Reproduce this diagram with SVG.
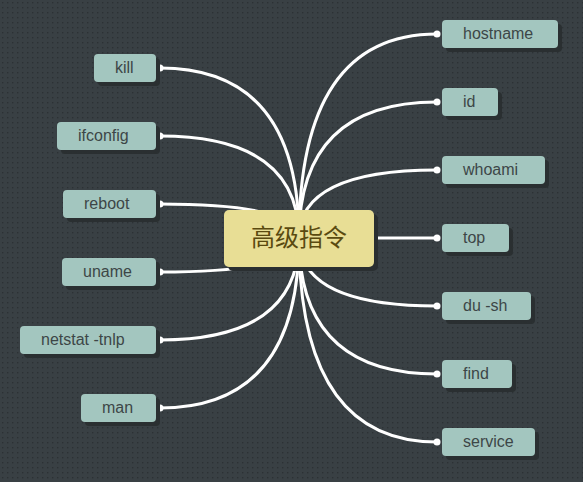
<svg xmlns="http://www.w3.org/2000/svg" width="583" height="482" viewBox="0 0 583 482">
<defs>
<pattern id="dots" width="5" height="5" patternUnits="userSpaceOnUse">
<rect width="5" height="5" fill="#394044"/>
<rect x="2" y="2" width="1.4" height="1.4" fill="#2c3134"/>
</pattern>
<style>
.sh{fill:#2a2f31}
.box{fill:#a3c6bf}
.lbl{font-family:"Liberation Sans",Arial,sans-serif;font-size:16px;fill:#3d4647}
.con{fill:none;stroke:#ffffff;stroke-width:3}
.dot{fill:#ffffff}
.ctr{fill:#e8de95}
.ctxt{font-family:"Noto Sans CJK SC",sans-serif;font-size:24px;fill:#5a4a10;text-anchor:middle}
</style>
</defs>
<rect width="583" height="482" fill="url(#dots)"/>
<g id="connectors">
<path class="con" d="M299,238 Q299,68 160,68"/>
<path class="con" d="M299,238 Q299,136 160,136"/>
<path class="con" d="M299,238 Q299,204 160,204"/>
<path class="con" d="M299,238 Q299,272 160,272"/>
<path class="con" d="M299,238 Q299,340 160,340"/>
<path class="con" d="M299,238 Q299,408 160,408"/>
<path class="con" d="M299,238 Q299,34 437,34"/>
<path class="con" d="M299,238 Q299,102 437,102"/>
<path class="con" d="M299,238 Q299,170 437,170"/>
<path class="con" d="M299,238 L437,238"/>
<path class="con" d="M299,238 Q299,306 437,306"/>
<path class="con" d="M299,238 Q299,374 437,374"/>
<path class="con" d="M299,238 Q299,442 437,442"/>
<circle class="dot" cx="160" cy="68" r="3.5"/>
<circle class="dot" cx="160" cy="136" r="3.5"/>
<circle class="dot" cx="160" cy="204" r="3.5"/>
<circle class="dot" cx="160" cy="272" r="3.5"/>
<circle class="dot" cx="160" cy="340" r="3.5"/>
<circle class="dot" cx="160" cy="408" r="3.5"/>
<circle class="dot" cx="437" cy="34" r="3.5"/>
<circle class="dot" cx="437" cy="102" r="3.5"/>
<circle class="dot" cx="437" cy="170" r="3.5"/>
<circle class="dot" cx="437" cy="238" r="3.5"/>
<circle class="dot" cx="437" cy="306" r="3.5"/>
<circle class="dot" cx="437" cy="374" r="3.5"/>
<circle class="dot" cx="437" cy="442" r="3.5"/>
</g>
<g id="center">
<rect class="sh" x="228" y="214" width="150" height="57" rx="5"/>
<rect class="ctr" x="224" y="210" width="150" height="57" rx="5"/>
<text class="ctxt" x="299" y="246">高级指令</text>
</g>
<g id="kill">
<rect class="sh" x="98" y="58" width="62" height="28" rx="4"/>
<rect class="box" x="94" y="54" width="62" height="28" rx="4"/>
<text class="lbl" x="115" y="72.5">kill</text>
</g>
<g id="ifconfig">
<rect class="sh" x="61" y="126" width="99" height="28" rx="4"/>
<rect class="box" x="57" y="122" width="99" height="28" rx="4"/>
<text class="lbl" x="78" y="140.5">ifconfig</text>
</g>
<g id="reboot">
<rect class="sh" x="67" y="194" width="93" height="28" rx="4"/>
<rect class="box" x="63" y="190" width="93" height="28" rx="4"/>
<text class="lbl" x="84" y="208.5">reboot</text>
</g>
<g id="uname">
<rect class="sh" x="66" y="262" width="94" height="28" rx="4"/>
<rect class="box" x="62" y="258" width="94" height="28" rx="4"/>
<text class="lbl" x="83" y="276.5">uname</text>
</g>
<g id="netstat">
<rect class="sh" x="24" y="330" width="136" height="28" rx="4"/>
<rect class="box" x="20" y="326" width="136" height="28" rx="4"/>
<text class="lbl" x="41" y="344.5">netstat -tnlp</text>
</g>
<g id="man">
<rect class="sh" x="85" y="398" width="75" height="28" rx="4"/>
<rect class="box" x="81" y="394" width="75" height="28" rx="4"/>
<text class="lbl" x="102" y="412.5">man</text>
</g>
<g id="hostname">
<rect class="sh" x="446" y="24" width="116" height="28" rx="4"/>
<rect class="box" x="442" y="20" width="116" height="28" rx="4"/>
<text class="lbl" x="463" y="38.5">hostname</text>
</g>
<g id="id">
<rect class="sh" x="446" y="92" width="56" height="28" rx="4"/>
<rect class="box" x="442" y="88" width="56" height="28" rx="4"/>
<text class="lbl" x="463" y="106.5">id</text>
</g>
<g id="whoami">
<rect class="sh" x="446" y="160" width="103" height="28" rx="4"/>
<rect class="box" x="442" y="156" width="103" height="28" rx="4"/>
<text class="lbl" x="463" y="174.5">whoami</text>
</g>
<g id="top">
<rect class="sh" x="446" y="228" width="67" height="28" rx="4"/>
<rect class="box" x="442" y="224" width="67" height="28" rx="4"/>
<text class="lbl" x="463" y="242.5">top</text>
</g>
<g id="du-sh">
<rect class="sh" x="446" y="296" width="89" height="28" rx="4"/>
<rect class="box" x="442" y="292" width="89" height="28" rx="4"/>
<text class="lbl" x="463" y="310.5">du -sh</text>
</g>
<g id="find">
<rect class="sh" x="446" y="364" width="70" height="28" rx="4"/>
<rect class="box" x="442" y="360" width="70" height="28" rx="4"/>
<text class="lbl" x="463" y="378.5">find</text>
</g>
<g id="service">
<rect class="sh" x="446" y="432" width="93" height="28" rx="4"/>
<rect class="box" x="442" y="428" width="93" height="28" rx="4"/>
<text class="lbl" x="463" y="446.5">service</text>
</g>
</svg>
